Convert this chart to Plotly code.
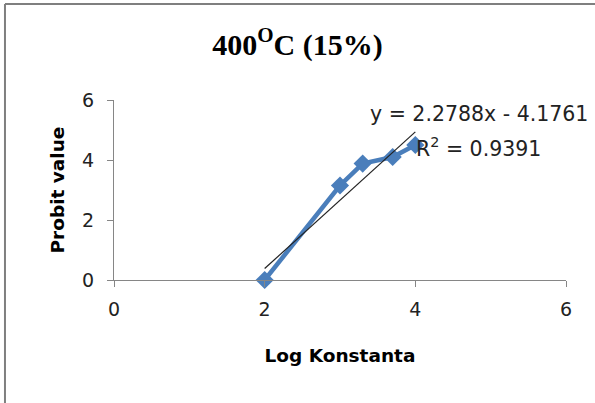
import plotly.graph_objects as go

# Data
log_konstanta = [2.0, 3.0, 3.301, 3.699, 4.0]
probit_value = [0.0, 3.15, 3.88, 4.10, 4.50]

# Trendline coefficients shown on the chart
slope = 2.2788
intercept = -4.1761
r_squared = 0.9391
trend_x = [min(log_konstanta), max(log_konstanta)]
trend_y = [slope * x + intercept for x in trend_x]

x_ticks = [0, 2, 4, 6]
y_ticks = [0, 2, 4, 6]

FONT = "DejaVu Sans, sans-serif"

fig = go.Figure()
fig.add_trace(go.Scatter(
    x=log_konstanta, y=probit_value, mode="lines+markers",
    line=dict(color="#4A7EBB", width=4.5),
    marker=dict(symbol="diamond", size=14, color="#4A7EBB"),
    showlegend=False, cliponaxis=False,
))
fig.add_trace(go.Scatter(
    x=trend_x, y=trend_y, mode="lines",
    line=dict(color="#222222", width=1.2),
    showlegend=False,
))

axis_common = dict(
    showgrid=False, zeroline=False, showline=True, linecolor="#868686", linewidth=1.3,
    ticks="outside", ticklen=6, tickcolor="#868686", tickwidth=1.3,
    tickfont=dict(family=FONT, size=19, color="#222222"),
)

fig.update_layout(
    width=595, height=403,
    margin=dict(l=114, r=29, t=100, b=123),
    paper_bgcolor="white", plot_bgcolor="white",
    title=dict(
        text="<b>400<sup>O</sup>C (15%)</b>",
        font=dict(family="Liberation Serif, Times New Roman, serif", size=30, color="black"),
        x=0.5, xanchor="center", y=1 - 44 / 403, yanchor="middle",
    ),
    xaxis=dict(
        range=[0, 6], tickvals=x_ticks, ticklabelstandoff=6,
        title=dict(text="<b>Log Konstanta</b>", standoff=30,
                   font=dict(family=FONT, size=18.5, color="black")),
        **axis_common,
    ),
    yaxis=dict(
        range=[0, 6], tickvals=y_ticks, ticklabelstandoff=9,
        title=dict(text="<b>Probit value</b>", standoff=12,
                   font=dict(family=FONT, size=18.5, color="black")),
        **axis_common,
    ),
    annotations=[
        dict(x=(368 - 114) / 452, y=(280 - 114) / 180, xref="paper", yref="paper",
             xanchor="left", yanchor="middle",
             text=f"y = {slope}x - {abs(intercept)}", showarrow=False,
             font=dict(family=FONT, size=20.5, color="#222222")),
        dict(x=(414 - 114) / 452, y=(280 - 147) / 180, xref="paper", yref="paper",
             xanchor="left", yanchor="middle",
             text=f"R<sup>2</sup> = {r_squared}", showarrow=False,
             font=dict(family=FONT, size=20.5, color="#222222")),
    ],
    shapes=[
        dict(type="line", xref="paper", yref="paper", x0=-0.2412, x1=1.2, y0=1.5333, y1=1.5333,
             line=dict(color="#7F7F7F", width=2)),
        dict(type="line", xref="paper", yref="paper", x0=-0.2412, x1=-0.2412, y0=1.5333, y1=-0.8,
             line=dict(color="#7F7F7F", width=2)),
    ],
)

fig.write_html("out.html", config={"displayModeBar": False},
               post_script="document.body.style.margin='0px';")
